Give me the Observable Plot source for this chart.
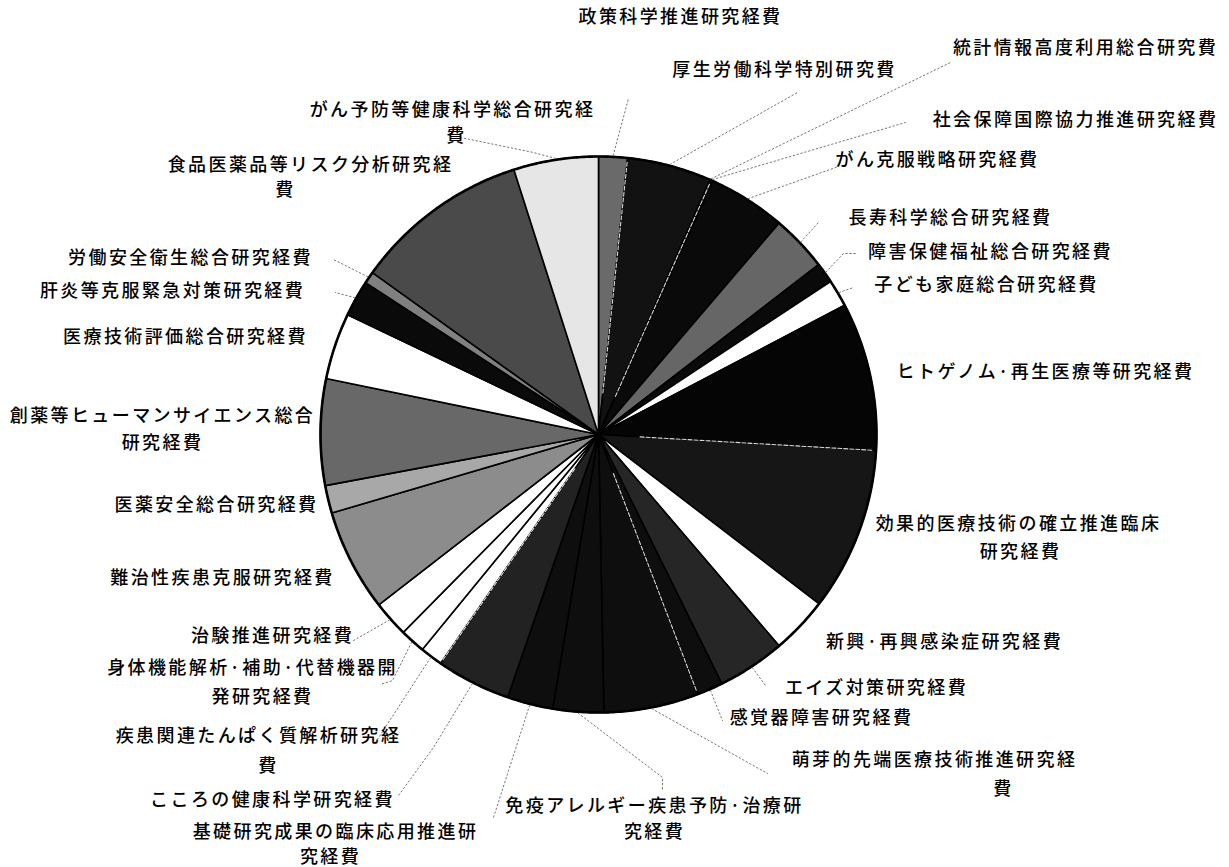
<!DOCTYPE html>
<html><head><meta charset="utf-8">
<script src="https://cdn.jsdelivr.net/npm/d3@7"></script>
<script src="https://cdn.jsdelivr.net/npm/@observablehq/plot@0.6"></script>
<style>
body{margin:0;background:#fff;}
#chart svg{display:block;}
#chart text{letter-spacing:2.4px;font-weight:500;}
</style>
</head><body><div id="chart"></div>
<script>
// ---- data (clockwise from 12 o'clock), shares in % ----
const categories = [
  "政策科学推進研究経費","厚生労働科学特別研究費","統計情報高度利用総合研究費","社会保障国際協力推進研究経費",
  "がん克服戦略研究経費","長寿科学総合研究経費","障害保健福祉総合研究経費","子ども家庭総合研究経費",
  "ヒトゲノム·再生医療等研究経費","効果的医療技術の確立推進臨床研究経費","新興·再興感染症研究経費","エイズ対策研究経費",
  "感覚器障害研究経費","萌芽的先端医療技術推進研究経費","免疫アレルギー疾患予防·治療研究経費","基礎研究成果の臨床応用推進研究経費",
  "こころの健康科学研究経費","疾患関連たんぱく質解析研究経費","身体機能解析·補助·代替機器開発研究経費","治験推進研究経費",
  "難治性疾患克服研究経費","医薬安全総合研究経費","創薬等ヒューマンサイエンス総合研究経費","医療技術評価総合研究経費",
  "肝炎等克服緊急対策研究経費","労働安全衛生総合研究経費","食品医薬品等リスク分析研究経費","がん予防等健康科学総合研究経費"
];
const values = [
  1.67, 4.89, 0.08, 0.11,
  4.50, 3.28, 1.19, 1.58,
  8.61, 9.50, 3.33, 3.94,
  1.50, 5.50, 2.94, 2.67,
  4.31, 1.31, 1.47, 2.11,
  5.94, 1.61, 6.17, 3.86,
  2.11, 0.69, 10.19, 4.92
];
// label text as wrapped in the picture
const labelLines = [
  ["政策科学推進研究経費"],["厚生労働科学特別研究費"],["統計情報高度利用総合研究費"],["社会保障国際協力推進研究経費"],
  ["がん克服戦略研究経費"],["長寿科学総合研究経費"],["障害保健福祉総合研究経費"],["子ども家庭総合研究経費"],
  ["ヒトゲノム·再生医療等研究経費"],["効果的医療技術の確立推進臨床","研究経費"],["新興·再興感染症研究経費"],["エイズ対策研究経費"],
  ["感覚器障害研究経費"],["萌芽的先端医療技術推進研究経","費"],["免疫アレルギー疾患予防·治療研","究経費"],["基礎研究成果の臨床応用推進研","究経費"],
  ["こころの健康科学研究経費"],["疾患関連たんぱく質解析研究経","費"],["身体機能解析·補助·代替機器開","発研究経費"],["治験推進研究経費"],
  ["難治性疾患克服研究経費"],["医薬安全総合研究経費"],["創薬等ヒューマンサイエンス総合","研究経費"],["医療技術評価総合研究経費"],
  ["肝炎等克服緊急対策研究経費"],["労働安全衛生総合研究経費"],["食品医薬品等リスク分析研究経","費"],["がん予防等健康科学総合研究経","費"]
];

// ---- styles ----
const fills = [
  "#6a6a6a","#121212","#111","#111",
  "#0a0a0a","#666666","#0a0a0a","#ffffff",
  "#050505","#161616","#ffffff","#262626",
  "#0e0e0e","#0e0e0e","#0e0e0e","#0e0e0e",
  "#222222","#ffffff","#ffffff","#ffffff",
  "#8c8c8c","#a8a8a8","#686868","#ffffff",
  "#0a0a0a","#808080","#4a4a4a","#e6e6e6"
];
// slice boundaries (index of the slice that starts there) drawn as white hairlines
const whiteEdges = [1, 3, 9, 13, 17];

// ---- layout (pixels in the 1229x867 frame) ----
const W = 1229, H = 867, CX = 598, CY = 434, R = 278;
const u = ([px, py]) => [(px - CX) / R, (CY - py) / R];
const labelPos = [
  [[680,17]], [[784,70]], [[1085,48]], [[1075,120]],
  [[937,160]], [[950,218]], [[990,252]], [[986,285]],
  [[1045,372]], [[1018,524],[1020,552]], [[944,642]], [[876,688]],
  [[821,718]], [[934,760],[1003,789]], [[654,806],[654,832]], [[335,832],[330,857]],
  [[272,800]], [[258,736],[268,766]], [[252,668],[262,697]], [[272,636]],
  [[222,578]], [[216,505]], [[162,416],[162,443]], [[185,337]],
  [[172,291]], [[190,258]], [[310,165],[285,190]], [[452,110],[456,136]]
];
// leader line bends / ends (start is the rim point at the slice's mid-angle)
const leaderPts = {
  0: [[628,98]],
  1: [[797,92]],
  2: [[950,62]],
  3: [[905,122]],
  4: [[838,166]],
  5: [[818,222]],
  6: [[843,253],[855,253]],
  7: [[853,287]],
  11: [[765,685]],
  12: [[722,720]],
  13: [[767,773]],
  14: [[662,777],[662,790]],
  15: [[493,817]],
  16: [[433,747],[398,795]],
  17: [[375,742]],
  18: [[392,680],[380,684]],
  19: [[353,640]],
  24: [[335,292]],
  25: [[333,259]],
  27: [[533,152],[460,137],[458,123]]
};

// ---- geometry via d3.pie ----
const arcs = d3.pie().sort(null).value(d => d)(values);
const pt = (a, r) => [r * Math.sin(a), r * Math.cos(a)];
const slicePts = [];
arcs.forEach((a, i) => {
  const n = Math.max(2, Math.ceil((a.endAngle - a.startAngle) / 0.004));
  slicePts.push({k: i, x: 0, y: 0, f: fills[i]});
  for (let j = 0; j <= n; j++) {
    const t = a.startAngle + (a.endAngle - a.startAngle) * j / n;
    const [x, y] = pt(t, 1);
    slicePts.push({k: i, x, y, f: fills[i]});
  }
  slicePts.push({k: i, x: 0, y: 0, f: fills[i]});
});
const circlePts = d3.range(0, 721).map(j => { const [x, y] = pt(j / 720 * 2 * Math.PI, 1); return {x, y}; });

const whitePts = [];
whiteEdges.forEach(i => {
  const a = arcs[i].startAngle;
  [[0.15], [0.985]].forEach(([r]) => { const [x, y] = pt(a, r); whitePts.push({k: i, x, y}); });
});

const leaders = [];
Object.entries(leaderPts).forEach(([i, pts]) => {
  const a = arcs[+i];
  const m = (a.startAngle + a.endAngle) / 2;
  const [x0, y0] = pt(m, 1.005);
  leaders.push({k: +i, x: x0, y: y0});
  pts.forEach(p => { const [x, y] = u(p); leaders.push({k: +i, x, y}); });
});

const textRows = [];
labelLines.forEach((lines, i) => lines.forEach((t, j) => {
  const [x, y] = u(labelPos[i][j]);
  textRows.push({t, x, y});
}));

const chart = Plot.plot({
  width: W, height: H, margin: 0,
  x: {domain: [-CX / R, (W - CX) / R], axis: null},
  y: {domain: [-(H - CY) / R, CY / R], axis: null},
  color: {type: "identity"},
  style: {fontFamily: "'Noto Sans CJK JP', sans-serif", background: "#fff"},
  marks: [
    Plot.line(slicePts, {x: "x", y: "y", z: "k", fill: "f", stroke: "#000", strokeWidth: 1.6, curve: "linear", strokeLinejoin: "miter"}),
    Plot.line(whitePts, {x: "x", y: "y", z: "k", stroke: "#fff", strokeWidth: 1.1, strokeOpacity: 0.85, strokeDasharray: "4,2"}),
    Plot.line(circlePts, {x: "x", y: "y", stroke: "#000", strokeWidth: 2.6}),
    Plot.line(leaders, {x: "x", y: "y", z: "k", stroke: "#777", strokeWidth: 1, strokeDasharray: "1.5,2.5"}),
    Plot.text(textRows, {x: "x", y: "y", text: "t", fontSize: 18, fill: "#000", textAnchor: "middle", lineAnchor: "middle"})
  ]
});
document.getElementById("chart").append(chart);
</script>
</body></html>
